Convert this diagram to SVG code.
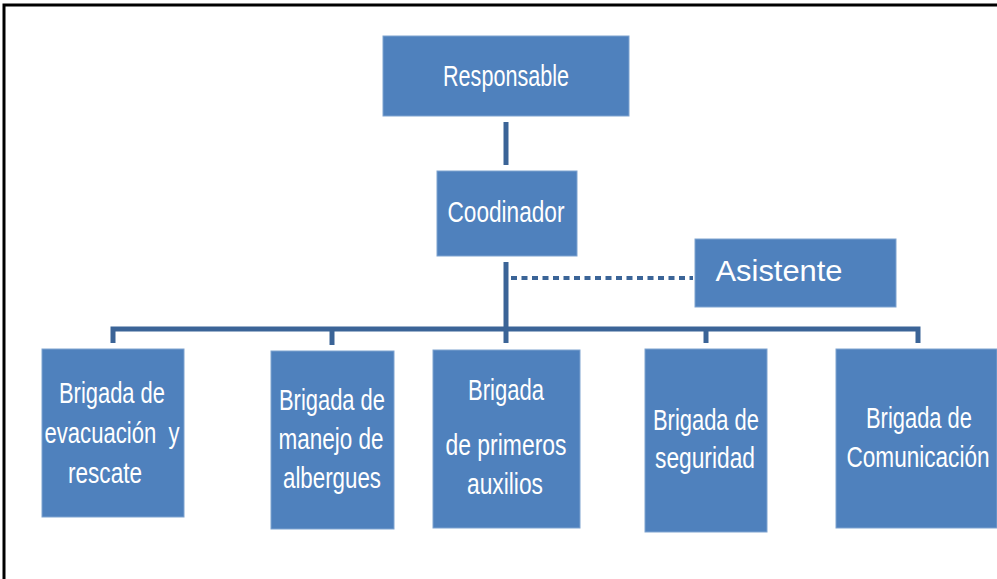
<svg xmlns="http://www.w3.org/2000/svg" width="997" height="579" viewBox="0 0 997 579">
<style>
.box{fill:#4F81BD;stroke:#7FA3D0;stroke-width:1}
.t{fill:#ffffff;font-family:"Liberation Sans Narrow","Liberation Sans",Arial,sans-serif;text-anchor:middle}
.s{font-size:29px}
.c{fill:none;stroke:#3B6497;stroke-width:5}
.d{fill:none;stroke:#3B6497;stroke-width:4;stroke-dasharray:6 4.5}
</style>
<rect width="997" height="579" fill="#ffffff"/>
<path d="M4 579 V5 H997" fill="none" stroke="#000000" stroke-width="3"/>
<g id="connectors">
<line class="c" x1="506" y1="122" x2="506" y2="165"/>
<line class="c" x1="506" y1="262" x2="506" y2="343"/>
<path class="c" d="M113 343 V329 H918 V343"/>
<line class="c" x1="332" y1="329" x2="332" y2="345"/>
<line class="c" x1="706" y1="329" x2="706" y2="343"/>
<line class="d" x1="511" y1="278" x2="693" y2="278"/>
</g>
<g id="responsable">
<rect class="box" x="383" y="36" width="246" height="80"/>
<text class="t s" x="506" y="86" textLength="126" lengthAdjust="spacingAndGlyphs">Responsable</text>
</g>
<g id="coodinador">
<rect class="box" x="437" y="171" width="140" height="85"/>
<text class="t" x="506" y="222" font-size="30" textLength="117" lengthAdjust="spacingAndGlyphs">Coodinador</text>
</g>
<g id="asistente">
<rect class="box" x="695" y="239" width="201" height="68"/>
<text class="t" x="779" y="281" font-size="30" style="font-family:'Liberation Sans',Arial,sans-serif" textLength="127" lengthAdjust="spacingAndGlyphs">Asistente</text>
</g>
<g id="evacuacion">
<rect class="box" x="42" y="349" width="142" height="168"/>
<text class="t s" x="112" y="403" textLength="106" lengthAdjust="spacingAndGlyphs">Brigada de</text>
<text class="t s" x="112" y="443" xml:space="preserve" textLength="135" lengthAdjust="spacingAndGlyphs">evacuación  y</text>
<text class="t s" x="105" y="483" textLength="74" lengthAdjust="spacingAndGlyphs">rescate</text>
</g>
<g id="albergues">
<rect class="box" x="271" y="351" width="123" height="178"/>
<text class="t s" x="332" y="410" textLength="106" lengthAdjust="spacingAndGlyphs">Brigada de</text>
<text class="t s" x="331" y="449" textLength="105" lengthAdjust="spacingAndGlyphs">manejo de</text>
<text class="t s" x="332" y="488" textLength="98" lengthAdjust="spacingAndGlyphs">albergues</text>
</g>
<g id="primeros">
<rect class="box" x="433" y="350" width="147" height="178"/>
<text class="t s" x="506" y="400" textLength="76" lengthAdjust="spacingAndGlyphs">Brigada</text>
<text class="t s" x="506" y="455" textLength="121" lengthAdjust="spacingAndGlyphs">de primeros</text>
<text class="t s" x="505" y="494" textLength="76" lengthAdjust="spacingAndGlyphs">auxilios</text>
</g>
<g id="seguridad">
<rect class="box" x="645" y="349" width="122" height="183"/>
<text class="t s" x="706" y="430" textLength="106" lengthAdjust="spacingAndGlyphs">Brigada de</text>
<text class="t s" x="705" y="468" textLength="100" lengthAdjust="spacingAndGlyphs">seguridad</text>
</g>
<g id="comunicacion">
<rect class="box" x="836" y="349" width="161" height="179"/>
<text class="t s" x="919" y="428" textLength="106" lengthAdjust="spacingAndGlyphs">Brigada de</text>
<text class="t s" x="918" y="467" textLength="143" lengthAdjust="spacingAndGlyphs">Comunicación</text>
</g>
</svg>
